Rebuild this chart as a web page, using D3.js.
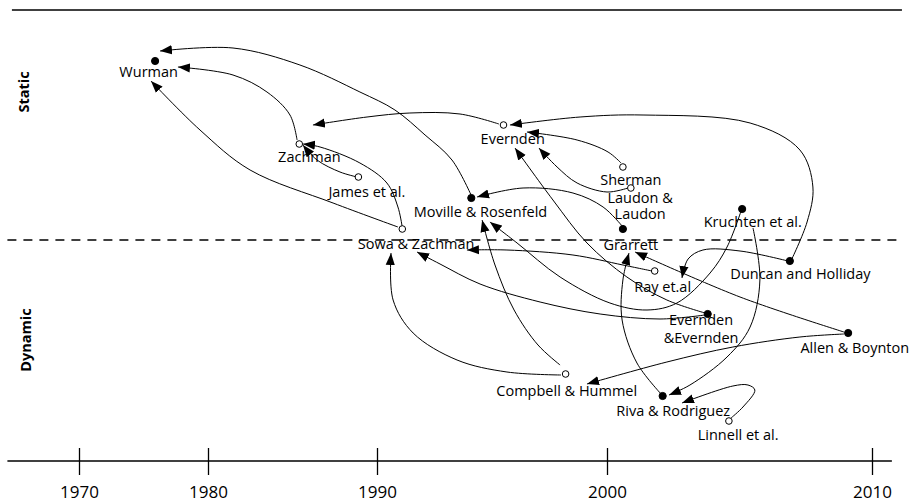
<!DOCTYPE html>
<html><head><meta charset="utf-8">
<script src="https://cdn.jsdelivr.net/npm/d3@7"></script>
<style>
body{margin:0;background:#fff}
svg{display:block}
text{font-family:"Open Sans",sans-serif;fill:#000}
</style>
</head><body>
<svg id="chart" width="914" height="503"></svg>
<script>
// ---------- data ----------
const tickYears = [1970, 1980, 1990, 2000, 2010];
const bandLabels = ["Static", "Dynamic"];
const bandLabelLevels = [73.8, 24.2];
const dividerLevel = 44.2;
const topLevel = 90.2;

// nodes: publication year and static/dynamic level
const nodes = [
  {name:"Wurman", year:1975.9, level:80, filled:true, label:["Wurman"], labelYear:1975.4, labelLevels:[76.8]},
  {name:"Zachman", year:1985.4, level:63.4, filled:false, label:["Zachman"], labelYear:1986.0, labelLevels:[59.8]},
  {name:"James et al.", year:1988.9, level:56.8, filled:false, label:["James et al."], labelYear:1989.4, labelLevels:[52.8]},
  {name:"Sowa & Zachman", year:1991.1, level:46.4, filled:false, label:["Sowa & Zachman"], labelYear:1991.7, labelLevels:[42.4]},
  {name:"Moville & Rosenfeld", year:1994.1, level:52.6, filled:true, label:["Moville & Rosenfeld"], labelYear:1994.5, labelLevels:[48.8]},
  {name:"Evernden", year:1995.5, level:67.2, filled:false, label:["Evernden"], labelYear:1995.9, labelLevels:[63.4]},
  {name:"Sherman", year:2000.6, level:58.8, filled:false, label:["Sherman"], labelYear:2000.9, labelLevels:[55.2]},
  {name:"Laudon & Laudon", year:2000.9, level:54.6, filled:false, label:["Laudon &","Laudon"], labelYear:2001.25, labelLevels:[51.7,48.5]},
  {name:"Grarrett", year:2000.6, level:46.4, filled:true, label:["Grarrett"], labelYear:2000.9, labelLevels:[42.2]},
  {name:"Kruchten et al.", year:2005.1, level:50.4, filled:true, label:["Kruchten et al."], labelYear:2005.5, labelLevels:[46.8]},
  {name:"Duncan and Holliday", year:2006.9, level:40, filled:true, label:["Duncan and Holliday"], labelYear:2007.3, labelLevels:[36.4]},
  {name:"Ray et.al", year:2001.8, level:38, filled:false, label:["Ray et.al"], labelYear:2002.1, labelLevels:[33.8]},
  {name:"Evernden & Evernden", year:2003.8, level:29.4, filled:true, label:["Evernden","&Evernden"], labelYear:2003.55, labelLevels:[27.2,23.6]},
  {name:"Allen & Boynton", year:2009.1, level:25.6, filled:true, label:["Allen & Boynton"], labelYear:2009.35, labelLevels:[21.6]},
  {name:"Compbell & Hummel", year:1998.2, level:17.4, filled:false, label:["Compbell & Hummel"], labelYear:1998.25, labelLevels:[13]},
  {name:"Riva & Rodriguez", year:2002.1, level:13, filled:true, label:["Riva & Rodriguez"], labelYear:2002.5, labelLevels:[9]},
  {name:"Linnell et al.", year:2004.6, level:8, filled:false, label:["Linnell et al."], labelYear:2004.95, labelLevels:[4.2]}
];

// influence arrows: [year, level] route from source to target
const edges = [
  {from:"Moville & Rosenfeld", to:"Wurman", route:[[1994.13,52.8],[1993.26,60.2],[1992.09,65.2],[1990.78,70.2],[1988.99,73.8],[1985.44,79.2],[1981.48,82.6],[1976.28,82]]},
  {from:"Zachman", to:"Wurman", route:[[1985.27,64.2],[1984.85,69.2],[1983.49,73.8],[1981.48,77.2],[1977.67,78.8]]},
  {from:"Sowa & Zachman", to:"Wurman", route:[[1990.91,46.8],[1987.40,51.6],[1982.49,58.2],[1979.38,66.2],[1975.58,76]]},
  {from:"Sowa & Zachman", to:"Zachman", route:[[1991.09,47],[1990.91,50.8],[1990.43,55.6],[1988.99,59.6],[1986.63,62.8],[1985.62,63.4]]},
  {from:"James et al.", to:"Zachman", route:[[1988.82,56.8],[1987.81,57.8],[1986.45,60.2],[1985.62,63.2]]},
  {from:"Evernden", to:"", route:[[1995.30,67.4],[1993.61,69.4],[1991.43,69.6],[1989.41,68.8],[1986.21,67.2]]},
  {from:"Duncan and Holliday", to:"Evernden", route:[[2006.94,40],[2007.55,47.8],[2007.77,54.8],[2007.28,62.2],[2005.40,67.6],[2001.36,69.2],[1998.83,68.8],[1995.78,67.2]]},
  {from:"Sherman", to:"Evernden", route:[[2000.53,59.6],[2000.04,61.8],[1998.70,64.2],[1996.52,65.8]]},
  {from:"Laudon & Laudon", to:"Evernden", route:[[2000.79,54.6],[2000.0,53.8],[1998.70,55.6],[1997.83,58.8],[1997.04,62.6]]},
  {from:"Grarrett", to:"Moville & Rosenfeld", route:[[2000.57,47],[1999.83,50.8],[1998.52,53.6],[1996.35,54.6],[1994.35,52.8]]},
  {from:"Evernden & Evernden", to:"Evernden", route:[[2003.70,29.6],[2002.26,32.2],[2000.75,36.8],[1999.13,43.6],[1997.65,52.2],[1996.0,62.6]]},
  {from:"Evernden & Evernden", to:"Sowa & Zachman", route:[[2003.70,29.2],[2002.0,28.4],[1999.70,29.4],[1997.09,31.8],[1994.48,35.4],[1992.74,39.4],[1991.74,41.8]]},
  {from:"Ray et.al", to:"Sowa & Zachman", route:[[2001.70,38],[2000.60,39.2],[1998.52,41.2],[1995.65,42.2],[1993.91,42.2]]},
  {from:"Compbell & Hummel", to:"Sowa & Zachman", route:[[1998.0,17.2],[1995.65,17.8],[1993.48,20.2],[1991.57,25.6],[1990.70,32.2],[1990.61,41.6]]},
  {from:"Compbell & Hummel", to:"Moville & Rosenfeld", route:[[1997.96,19.2],[1997.0,23.2],[1995.96,30.2],[1995.13,39.2],[1994.57,48.2]]},
  {from:"Kruchten et al.", to:"Moville & Rosenfeld", route:[[2005.06,50],[2004.53,42.8],[2003.89,37.6],[2002.64,31.6],[2001.51,30.2],[2000.11,31.6],[1997.96,36.8],[1996.09,43.6],[1994.91,47.8]]},
  {from:"Duncan and Holliday", to:"Ray et.al", route:[[2006.83,40],[2005.02,42],[2003.62,42.2],[2003.06,40.4],[2002.83,36.6]]},
  {from:"Allen & Boynton", to:"Grarrett", route:[[2008.94,25.8],[2005.02,32.8],[2001.06,41.8]]},
  {from:"Allen & Boynton", to:"Compbell & Hummel", route:[[2008.94,25.4],[2007.28,24.8],[2004.75,22.8],[2002.26,19.8],[1999.13,15.4]]},
  {from:"Riva & Rodriguez", to:"Grarrett", route:[[2002.04,13.4],[2001.13,19.6],[2000.57,28.2],[2000.60,36.2],[2000.83,41.6]]},
  {from:"Kruchten et al.", to:"Riva & Rodriguez", route:[[2005.51,46.6],[2005.77,36.2],[2005.40,26.8],[2004.53,20.8],[2003.13,15.2],[2002.34,13.2]]},
  {from:"Linnell et al.", to:"Riva & Rodriguez", route:[[2004.68,8.6],[2005.13,10.8],[2005.58,14.2],[2005.32,15.2],[2004.75,15],[2002.83,11.6]]}
];

// ---------- scales ----------
const svg = d3.select("#chart");
const x = d3.scaleLinear().domain(tickYears).range([79, 208, 377, 607, 872]);
const y = d3.scaleLinear().domain([0, 90]).range([461, 11]);

// arrow marker
svg.append("defs").append("marker")
  .attr("id","arrow").attr("markerUnits","userSpaceOnUse")
  .attr("viewBox","0 -5 12 10").attr("refX",12).attr("refY",0)
  .attr("markerWidth",12).attr("markerHeight",10).attr("orient","auto")
  .append("path").attr("d","M0,-4.6L12,0L0,4.6Z").attr("fill","#000");

// top rule
svg.append("line")
  .attr("x1", x(1964.8)).attr("x2", x(2011.13))
  .attr("y1", y(topLevel)).attr("y2", y(topLevel))
  .attr("stroke","#000").attr("stroke-width",1.4);

// static/dynamic divider
svg.append("line")
  .attr("x1", x(1964.45)).attr("x2", x(2010.95))
  .attr("y1", y(dividerLevel)).attr("y2", y(dividerLevel))
  .attr("stroke","#000").attr("stroke-width",1.3)
  .attr("stroke-dasharray","9,7");

// band labels
svg.selectAll("text.band").data(bandLabels).join("text")
  .attr("class","band")
  .attr("transform",(d,i)=>`translate(${i===0?29:31},${y(bandLabelLevels[i])}) rotate(-90)`)
  .attr("text-anchor","middle")
  .attr("font-weight","bold").attr("font-size",14.5)
  .text(d=>d);

// time axis
const axis = svg.append("g")
  .attr("transform",`translate(0,${y(0)})`)
  .call(d3.axisBottom(x).tickValues(tickYears).tickFormat(d3.format("d")).tickSize(14).tickPadding(11));
axis.select(".domain").remove();
axis.selectAll(".tick line").attr("y1",-13).attr("stroke","#000").attr("stroke-width",1.3);
axis.selectAll(".tick text").attr("font-size",17).attr("font-family","'Open Sans',sans-serif").attr("fill","#000");
axis.insert("line",":first-child")
  .attr("x1", x(1964.45)).attr("x2", x(2010.75))
  .attr("stroke","#000").attr("stroke-width",1.4);

// edges
const line = d3.line().x(d=>x(d[0])).y(d=>y(d[1])).curve(d3.curveCatmullRom.alpha(0.5));
svg.append("g").selectAll("path").data(edges).join("path")
  .attr("d", d=>line(d.route))
  .attr("fill","none").attr("stroke","#000").attr("stroke-width",1)
  .attr("marker-end","url(#arrow)");

// nodes
svg.append("g").selectAll("circle").data(nodes).join("circle")
  .attr("cx", d=>x(d.year)).attr("cy", d=>y(d.level))
  .attr("r", d=>d.filled?3.6:3.3)
  .attr("fill", d=>d.filled?"#000":"#fff")
  .attr("stroke","#000").attr("stroke-width",1);

// labels
const lg = svg.append("g").attr("font-size",14.5).attr("text-anchor","middle");
nodes.forEach(n=>{
  n.label.forEach((t,i)=>{
    lg.append("text").attr("x",x(n.labelYear)).attr("y",y(n.labelLevels[i])).text(t);
  });
});
</script>
</body></html>
